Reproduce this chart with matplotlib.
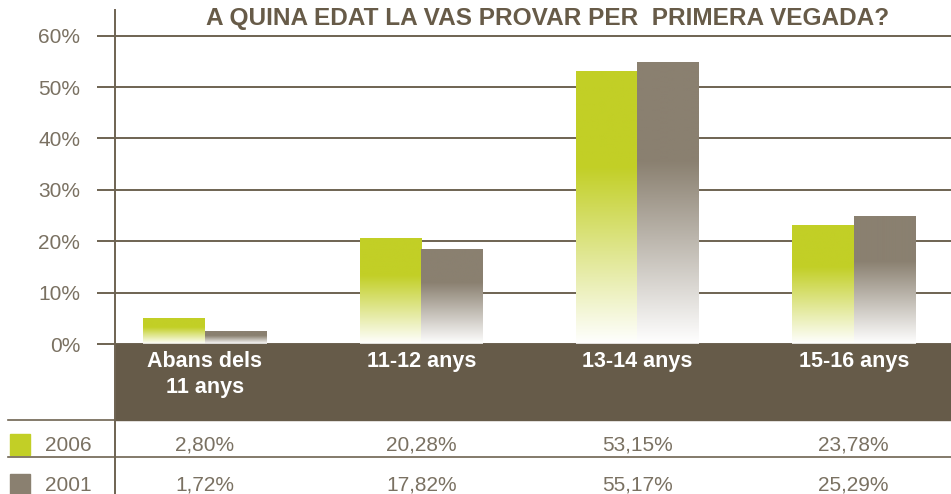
import numpy as np
import matplotlib
matplotlib.use('Agg')
import matplotlib.pyplot as plt
from matplotlib.colors import LinearSegmentedColormap
from matplotlib.patches import Rectangle
from matplotlib.lines import Line2D
import matplotlib.transforms as mtransforms

plt.rcParams['font.family'] = ['Liberation Sans', 'DejaVu Sans']

title = 'A QUINA EDAT LA VAS PROVAR PER  PRIMERA VEGADA?'
categories = ['Abans dels\n11 anys', '11-12 anys', '13-14 anys', '15-16 anys']
series_names = ['2006', '2001']
# bar heights as drawn in the picture
bars_2006 = [5.0, 20.5, 53.0, 23.0]
bars_2001 = [2.4, 18.3, 54.8, 24.8]
# values printed in the table
table_2006 = ['2,80%', '20,28%', '53,15%', '23,78%']
table_2001 = ['1,72%', '17,82%', '55,17%', '25,29%']
yticks = [0, 10, 20, 30, 40, 50, 60]

lime = '#c2cf26'
taupe = '#8a8070'
band = '#665b49'
txt = '#7a7162'
line_c = '#6e6352'

W, H = 951, 494
fig = plt.figure(figsize=(W / 100, H / 100), dpi=100)
ax = fig.add_axes([115 / W, 150 / H, 1 - 115 / W, 334 / H])

x = np.arange(len(categories))
bw = 0.285
b1 = ax.bar(x - bw / 2, bars_2006, bw, color='none', zorder=3)
b2 = ax.bar(x + bw / 2, bars_2001, bw, color='none', zorder=3)


def grad_fill(patches, color):
    cmap = LinearSegmentedColormap.from_list('g', [(0, 'white'), (0.65, color), (1, color)])
    grad = np.linspace(0, 1, 256).reshape(-1, 1)
    for p in patches:
        x0, y0 = p.get_x(), p.get_y()
        w, h = p.get_width(), p.get_height()
        ax.imshow(grad, cmap=cmap, origin='lower', aspect='auto',
                  extent=[x0, x0 + w, y0, y0 + h], zorder=3, interpolation='bilinear')


grad_fill(b1, lime)
grad_fill(b2, taupe)
ax.set_xlim(-0.416, 3.45)
ax.set_ylim(0, 65)

ax.set_yticks(yticks)
ax.set_yticklabels([f'{v}%' for v in yticks], fontsize=15, color=txt)
ax.tick_params(axis='y', direction='out', length=13, width=1.4, color=line_c, pad=12)
ax.set_xticks([])
ax.yaxis.grid(True, color=line_c, linewidth=1.4, zorder=1)
ax.set_axisbelow(True)
for s in ['top', 'right', 'bottom']:
    ax.spines[s].set_visible(False)
ax.spines['left'].set_color(line_c)
ax.spines['left'].set_linewidth(1.4)

# title
fig.text(548 / W, 1 - 19 / H, title, ha='center', va='center', fontsize=17.6,
         fontweight='bold', color='#675b48')

# brown band with category labels
fig.patches.append(Rectangle((115 / W, 74 / H), 1 - 115 / W, 76 / H,
                             transform=fig.transFigure, color=band, zorder=0))
trans = mtransforms.blended_transform_factory(ax.transData, fig.transFigure)
for xi, lab in zip(x, categories):
    fig.text(xi, 1 - 351 / H, lab, transform=trans, ha='center', va='top',
             fontsize=15.5, fontweight='bold', color='white', linespacing=1.3)

# table
fig.add_artist(Line2D([8 / W, 115 / W], [74 / H, 74 / H], color=line_c, lw=1.2))
fig.add_artist(Line2D([8 / W, 1], [37 / H, 37 / H], color=line_c, lw=1.2))
fig.add_artist(Line2D([115 / W, 115 / W], [0, 150 / H], color=line_c, lw=1.4))

rows = [(series_names[0], lime, table_2006, 1 - 445 / H),
        (series_names[1], taupe, table_2001, 1 - 485 / H)]
for name, col, vals, yy in rows:
    fig.patches.append(Rectangle((10 / W, yy - 10 / H), 20 / W, 21 / H,
                                 transform=fig.transFigure, color=col))
    fig.text(45 / W, yy, name, ha='left', va='center', fontsize=15, color=txt)
    for xi, v in zip(x, vals):
        fig.text(xi, yy, v, transform=trans, ha='center', va='center',
                 fontsize=15, color=txt)

fig.savefig('out.png', dpi=100)
